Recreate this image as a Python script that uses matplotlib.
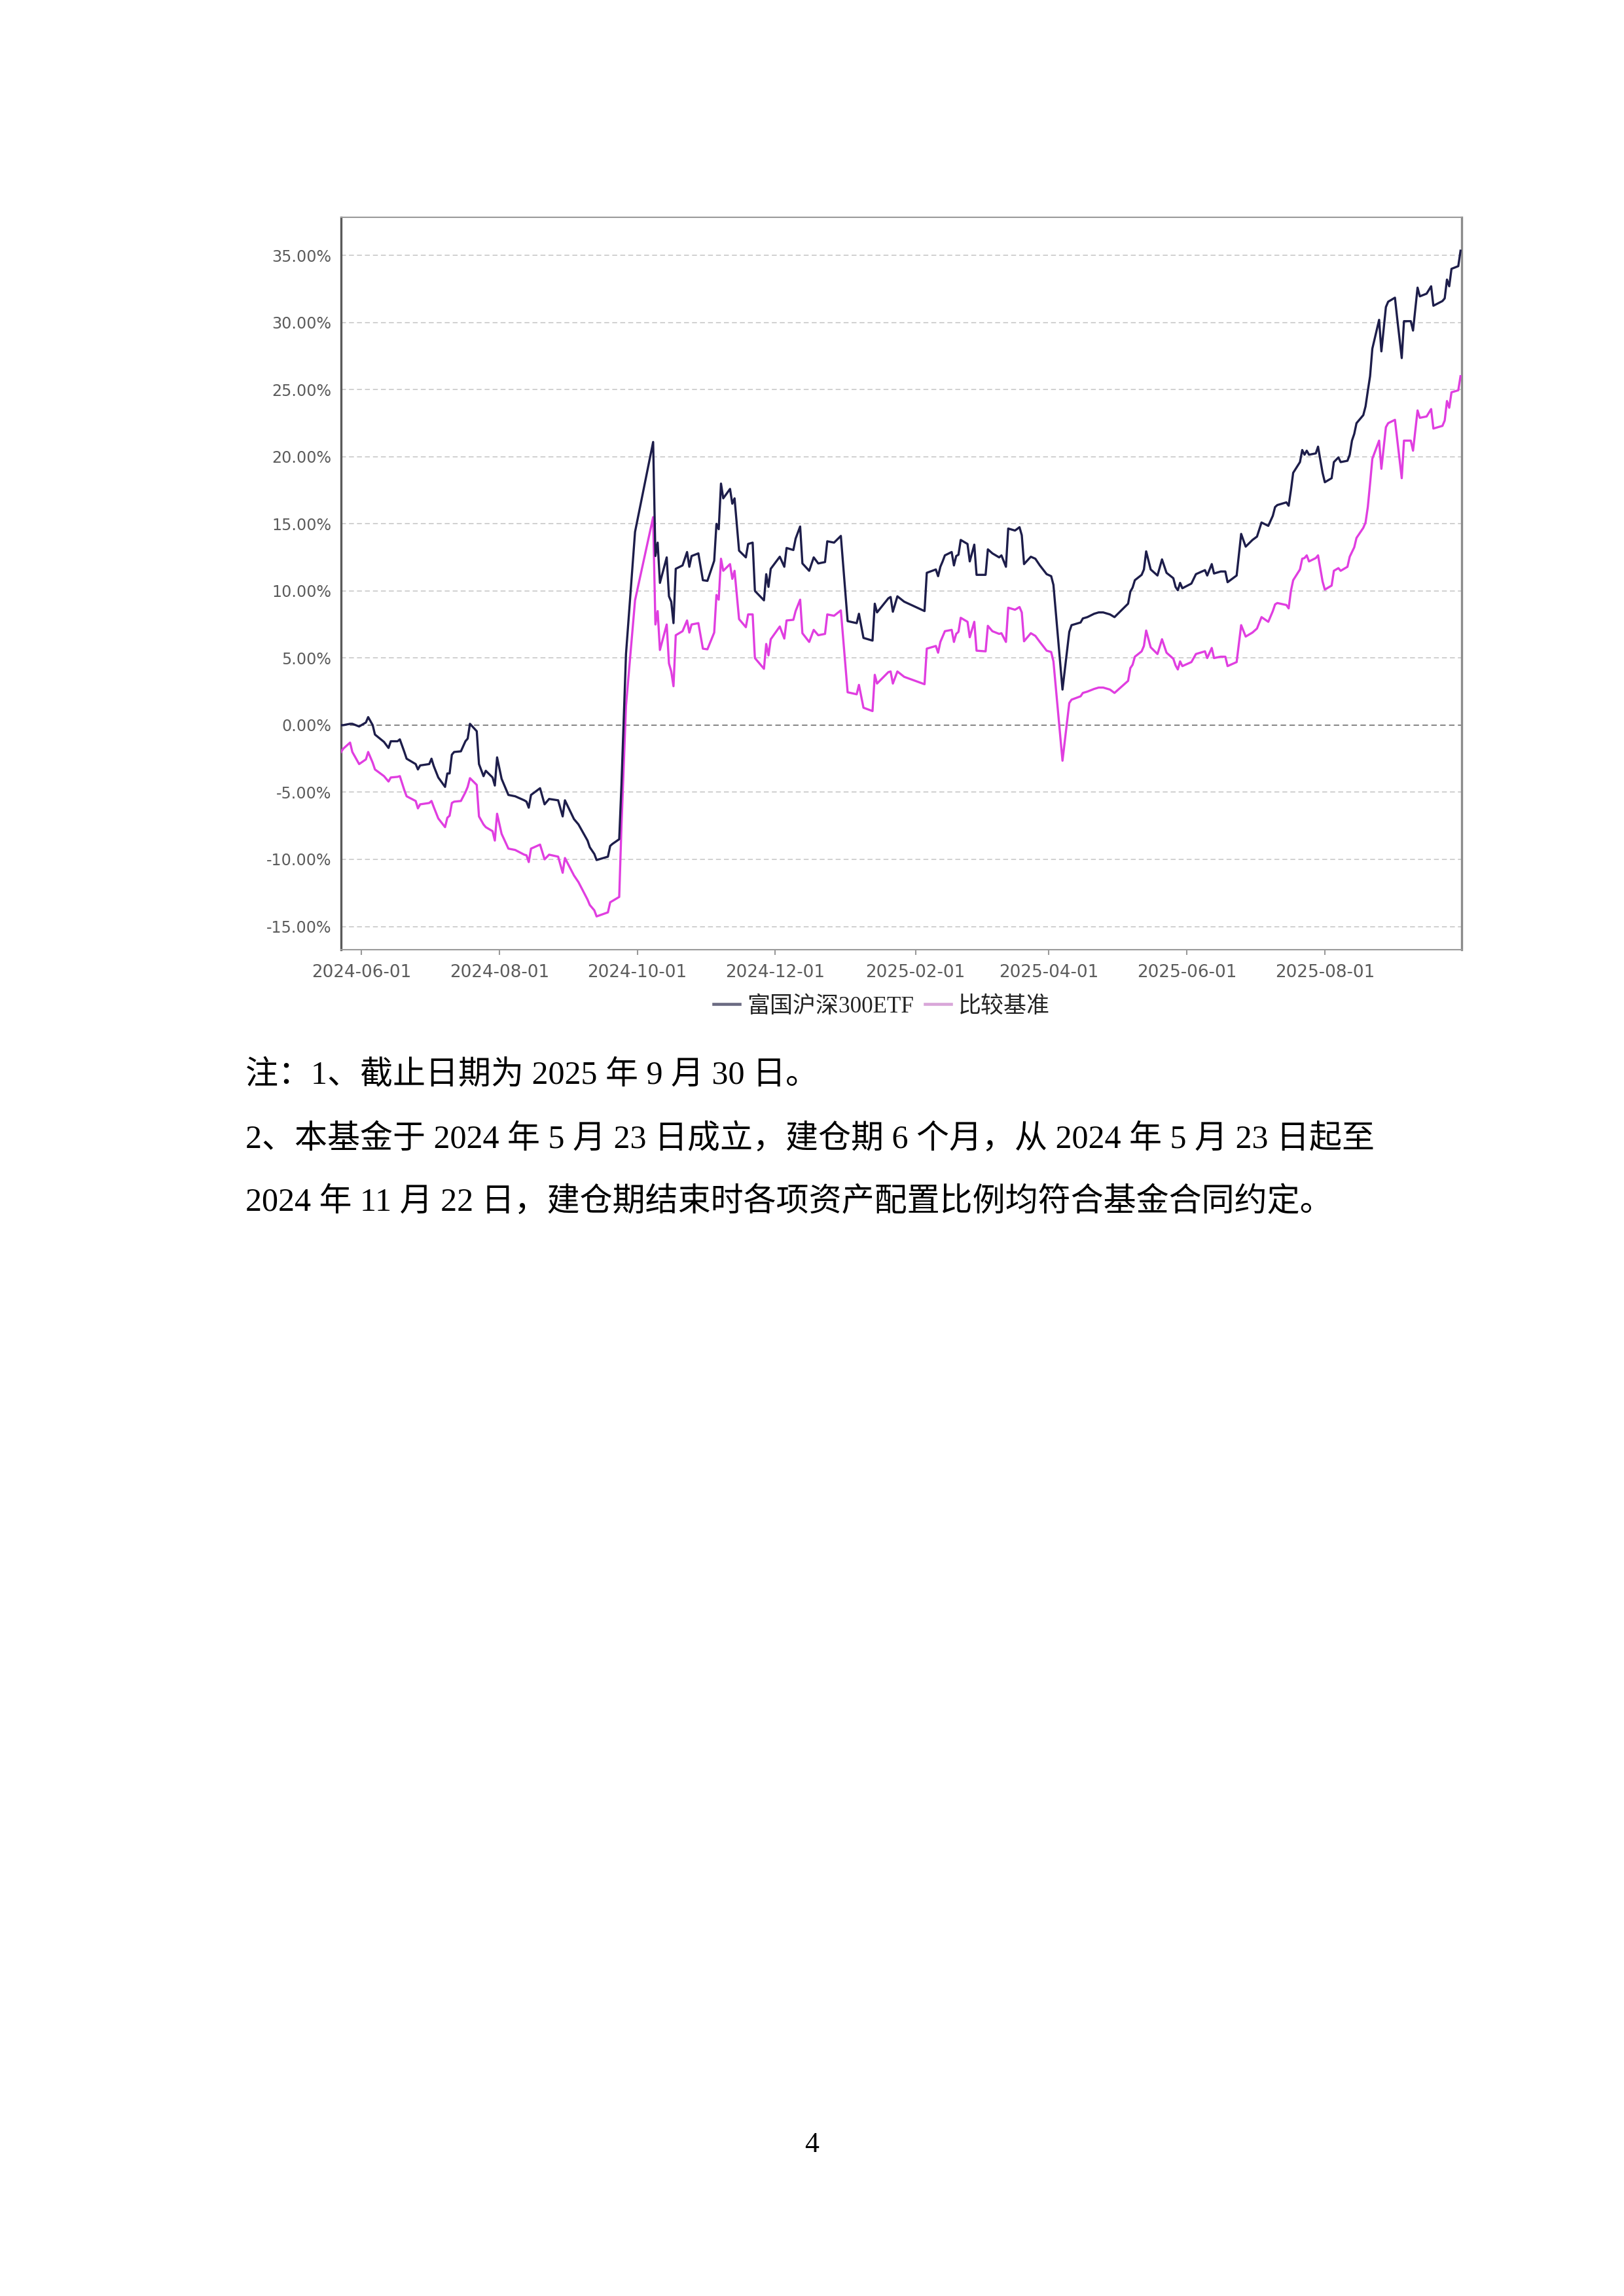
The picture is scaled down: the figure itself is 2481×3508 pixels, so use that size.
import matplotlib
matplotlib.use("Agg")
import matplotlib.pyplot as plt
import matplotlib.dates as mdates
from matplotlib.lines import Line2D
from matplotlib.ticker import FuncFormatter, FixedLocator
import pandas as pd

plt.rcParams['axes.unicode_minus'] = False

# ---------------- data ----------------
dates = [
    "2024-05-23", "2024-05-24", "2024-05-27", "2024-05-28", "2024-05-31", "2024-06-03", "2024-06-04",
    "2024-06-06", "2024-06-07", "2024-06-11", "2024-06-13", "2024-06-14", "2024-06-17", "2024-06-18",
    "2024-06-20", "2024-06-21", "2024-06-25", "2024-06-26", "2024-06-27", "2024-07-01", "2024-07-02",
    "2024-07-03", "2024-07-05", "2024-07-08", "2024-07-09", "2024-07-10", "2024-07-11", "2024-07-12",
    "2024-07-15", "2024-07-17", "2024-07-18", "2024-07-19", "2024-07-22", "2024-07-23", "2024-07-25",
    "2024-07-26", "2024-07-29", "2024-07-30", "2024-07-31", "2024-08-02", "2024-08-05", "2024-08-08",
    "2024-08-12", "2024-08-13", "2024-08-14", "2024-08-15", "2024-08-19", "2024-08-21", "2024-08-23",
    "2024-08-27", "2024-08-29", "2024-08-30", "2024-09-03", "2024-09-05", "2024-09-09", "2024-09-10",
    "2024-09-12", "2024-09-13", "2024-09-18", "2024-09-19", "2024-09-20", "2024-09-23", "2024-09-24",
    "2024-09-26", "2024-09-30", "2024-10-08", "2024-10-09", "2024-10-10", "2024-10-11", "2024-10-14",
    "2024-10-15", "2024-10-16", "2024-10-17", "2024-10-18", "2024-10-21", "2024-10-23", "2024-10-24",
    "2024-10-25", "2024-10-28", "2024-10-30", "2024-11-01", "2024-11-04", "2024-11-05", "2024-11-06",
    "2024-11-07", "2024-11-08", "2024-11-11", "2024-11-12", "2024-11-13", "2024-11-15", "2024-11-18",
    "2024-11-19", "2024-11-21", "2024-11-22", "2024-11-26", "2024-11-27", "2024-11-28", "2024-11-29",
    "2024-12-03", "2024-12-05", "2024-12-06", "2024-12-09", "2024-12-10", "2024-12-12", "2024-12-13",
    "2024-12-16", "2024-12-18", "2024-12-20", "2024-12-23", "2024-12-24", "2024-12-27", "2024-12-30",
    "2025-01-02", "2025-01-06", "2025-01-07", "2025-01-09", "2025-01-13", "2025-01-14", "2025-01-15",
    "2025-01-20", "2025-01-21", "2025-01-22", "2025-01-24", "2025-01-27", "2025-02-05", "2025-02-06",
    "2025-02-10", "2025-02-11", "2025-02-12", "2025-02-13", "2025-02-14", "2025-02-17", "2025-02-18",
    "2025-02-19", "2025-02-20", "2025-02-21", "2025-02-24", "2025-02-25", "2025-02-27", "2025-02-28",
    "2025-03-04", "2025-03-05", "2025-03-07", "2025-03-10", "2025-03-11", "2025-03-13", "2025-03-14",
    "2025-03-17", "2025-03-19", "2025-03-20", "2025-03-21", "2025-03-24", "2025-03-26", "2025-03-28",
    "2025-03-31", "2025-04-02", "2025-04-03", "2025-04-07", "2025-04-10", "2025-04-11", "2025-04-15",
    "2025-04-16", "2025-04-18", "2025-04-21", "2025-04-23", "2025-04-25", "2025-04-28", "2025-04-30",
    "2025-05-06", "2025-05-07", "2025-05-08", "2025-05-09", "2025-05-12", "2025-05-13", "2025-05-14",
    "2025-05-16", "2025-05-19", "2025-05-21", "2025-05-23", "2025-05-26", "2025-05-27", "2025-05-28",
    "2025-05-29", "2025-05-30", "2025-06-03", "2025-06-05", "2025-06-09", "2025-06-10", "2025-06-12",
    "2025-06-13", "2025-06-16", "2025-06-18", "2025-06-19", "2025-06-23", "2025-06-25", "2025-06-27",
    "2025-06-30", "2025-07-02", "2025-07-04", "2025-07-07", "2025-07-09", "2025-07-10", "2025-07-11",
    "2025-07-15", "2025-07-16", "2025-07-17", "2025-07-18", "2025-07-21", "2025-07-22", "2025-07-23",
    "2025-07-24", "2025-07-25", "2025-07-28", "2025-07-29", "2025-07-31", "2025-08-01", "2025-08-04",
    "2025-08-05", "2025-08-07", "2025-08-08", "2025-08-11", "2025-08-12", "2025-08-13", "2025-08-14",
    "2025-08-15", "2025-08-18", "2025-08-19", "2025-08-20", "2025-08-21", "2025-08-22", "2025-08-25",
    "2025-08-26", "2025-08-28", "2025-08-29", "2025-09-01", "2025-09-02", "2025-09-04", "2025-09-05",
    "2025-09-08", "2025-09-09", "2025-09-11", "2025-09-12", "2025-09-15", "2025-09-17", "2025-09-18",
    "2025-09-22", "2025-09-23", "2025-09-24", "2025-09-25", "2025-09-26", "2025-09-29", "2025-09-30",
]

fund = [
    0.00, 0.00, 0.10, 0.10, -0.10, 0.20, 0.60,
    0.00, -0.70, -1.25, -1.70, -1.20, -1.20, -1.06,
    -2.00, -2.50, -2.90, -3.30, -3.00, -2.90, -2.50,
    -3.05, -3.90, -4.60, -3.60, -3.60, -2.20, -2.00,
    -1.95, -1.20, -1.00, 0.10, -0.45, -2.90, -3.80,
    -3.40, -3.90, -4.50, -2.40, -4.00, -5.20, -5.30,
    -5.60, -5.70, -6.15, -5.20, -4.70, -5.90, -5.50,
    -5.60, -6.80, -5.60, -7.00, -7.40, -8.60, -9.10,
    -9.60, -10.05, -9.80, -9.00, -8.85, -8.50, -4.40,
    5.30, 14.40, 21.10, 12.60, 13.60, 10.60, 12.50,
    9.60, 9.20, 7.60, 11.65, 11.90, 12.90, 11.80,
    12.60, 12.80, 10.80, 10.75, 12.25, 15.00, 14.60,
    18.00, 16.90, 17.60, 16.50, 16.90, 13.00, 12.50,
    13.50, 13.60, 10.00, 9.30, 11.25, 10.30, 11.65,
    12.55, 11.80, 13.20, 13.05, 13.90, 14.80, 12.05,
    11.50, 12.50, 12.05, 12.15, 13.70, 13.60, 14.10,
    7.75, 7.60, 8.30, 6.50, 6.30, 9.05, 8.40,
    9.45, 9.55, 8.45, 9.60, 9.20, 8.50, 11.35,
    11.60, 11.10, 11.80, 12.20, 12.65, 12.90, 11.90,
    12.60, 12.70, 13.80, 13.50, 12.20, 13.45, 11.20,
    11.20, 13.10, 12.80, 12.50, 12.65, 11.80, 14.65,
    14.50, 14.75, 14.15, 12.00, 12.55, 12.40, 11.90,
    11.25, 11.10, 10.45, 2.65, 6.95, 7.45, 7.65,
    7.95, 8.05, 8.30, 8.40, 8.40, 8.25, 8.05,
    9.05, 9.95, 10.25, 10.80, 11.20, 11.60, 12.95,
    11.60, 11.15, 12.35, 11.35, 10.95, 10.30, 10.05,
    10.60, 10.20, 10.55, 11.25, 11.55, 11.15, 12.00,
    11.30, 11.45, 11.45, 10.65, 11.15, 14.25, 13.30,
    13.80, 14.05, 15.10, 14.85, 15.60, 16.25, 16.40,
    16.60, 16.35, 17.50, 18.80, 19.60, 20.50, 20.15,
    20.45, 20.15, 20.25, 20.75, 18.80, 18.10, 18.40,
    19.60, 19.95, 19.60, 19.70, 20.15, 21.20, 21.70,
    22.50, 23.10, 23.75, 24.90, 26.00, 28.05, 30.20,
    27.85, 31.15, 31.55, 31.85, 30.30, 27.35, 30.10,
    30.10, 29.40, 32.60, 31.95, 32.15, 32.70, 31.25,
    31.60, 31.80, 33.20, 32.70, 34.00, 34.20, 35.35,
]

bench = [
    -2.00, -1.75, -1.30, -2.00, -2.90, -2.55, -2.00,
    -2.80, -3.30, -3.80, -4.20, -3.90, -3.85, -3.80,
    -4.85, -5.30, -5.65, -6.20, -5.90, -5.80, -5.65,
    -6.10, -6.95, -7.60, -6.90, -6.75, -5.80, -5.70,
    -5.65, -5.00, -4.60, -3.95, -4.45, -6.80, -7.40,
    -7.60, -7.90, -8.60, -6.60, -8.10, -9.20, -9.30,
    -9.65, -9.70, -10.20, -9.20, -8.90, -10.00, -9.65,
    -9.80, -11.00, -9.90, -11.20, -11.70, -13.00, -13.40,
    -13.80, -14.25, -13.95, -13.20, -13.10, -12.80, -7.50,
    1.45, 9.30, 15.50, 7.50, 8.50, 5.60, 7.50,
    4.60, 4.00, 2.90, 6.70, 7.00, 7.80, 6.90,
    7.50, 7.60, 5.70, 5.65, 6.90, 9.70, 9.35,
    12.40, 11.50, 12.00, 10.90, 11.50, 7.90, 7.30,
    8.25, 8.25, 5.00, 4.20, 6.05, 5.20, 6.40,
    7.35, 6.45, 7.80, 7.85, 8.50, 9.35, 6.85,
    6.20, 7.10, 6.70, 6.80, 8.25, 8.15, 8.55,
    2.45, 2.30, 3.00, 1.30, 1.05, 3.75, 3.10,
    3.95, 4.00, 3.10, 4.00, 3.60, 3.05, 5.70,
    5.90, 5.40, 6.20, 6.60, 7.00, 7.10, 6.20,
    6.80, 6.95, 8.00, 7.70, 6.55, 7.70, 5.55,
    5.50, 7.40, 7.00, 6.80, 6.85, 6.20, 8.75,
    8.60, 8.80, 8.40, 6.25, 6.85, 6.65, 6.20,
    5.55, 5.45, 4.75, -2.65, 1.65, 1.90, 2.15,
    2.40, 2.50, 2.70, 2.80, 2.80, 2.65, 2.40,
    3.30, 4.25, 4.50, 5.10, 5.50, 5.90, 7.05,
    5.80, 5.30, 6.40, 5.40, 4.95, 4.45, 4.15,
    4.75, 4.40, 4.70, 5.30, 5.50, 5.00, 5.75,
    5.00, 5.10, 5.10, 4.40, 4.70, 7.45, 6.60,
    6.90, 7.20, 8.05, 7.70, 8.50, 9.00, 9.10,
    8.95, 8.70, 10.00, 10.80, 11.60, 12.40, 12.45,
    12.65, 12.20, 12.45, 12.65, 10.70, 10.10, 10.40,
    11.50, 11.70, 11.50, 11.80, 12.55, 12.90, 13.25,
    13.95, 14.70, 15.10, 16.25, 18.00, 19.85, 21.20,
    19.10, 22.20, 22.50, 22.75, 21.30, 18.40, 21.20,
    21.20, 20.45, 23.45, 22.90, 23.00, 23.55, 22.10,
    22.30, 22.70, 24.15, 23.65, 24.80, 24.95, 26.00,
]

series_names = ["富国沪深300ETF", "比较基准"]
y_ticks = [35, 30, 25, 20, 15, 10, 5, 0, -5, -10, -15]
x_ticks = ["2024-06-01", "2024-08-01", "2024-10-01", "2024-12-01",
           "2025-02-01", "2025-04-01", "2025-06-01", "2025-08-01"]

note_lines = [
    "注：1、截止日期为 2025 年 9 月 30 日。",
    "2、本基金于 2024 年 5 月 23 日成立，建仓期 6 个月，从 2024 年 5 月 23 日起至",
    "2024 年 11 月 22 日，建仓期结束时各项资产配置比例均符合基金合同约定。",
]
page_no = "4"

# ---------------- figure ----------------
W, H = 2481, 3508
fig = plt.figure(figsize=(W / 300, H / 300), dpi=300)
fig.patch.set_facecolor("white")

ax_l, ax_r, ax_t, ax_b = 521, 2233, 332, 1451
ax = fig.add_axes([ax_l / W, 1 - ax_b / H, (ax_r - ax_l) / W, (ax_b - ax_t) / H])

x = pd.to_datetime(dates)
fund_color = "#1d1d4a"
bench_color = "#e03ee0"
ax.plot(x, bench, color=bench_color, lw=0.8, zorder=3)
ax.plot(x, fund, color=fund_color, lw=0.8, zorder=4)

ax.set_xlim(x[0], x[-1] + pd.Timedelta(hours=12))
ax.set_ylim(-16.73, 37.84)

# grid
for v in y_ticks:
    if v == 0:
        ax.axhline(v, color="#8a8a8a", lw=0.5, ls=(0, (4, 2.5)), zorder=2)
    else:
        ax.axhline(v, color="#cfcfcf", lw=0.45, ls=(0, (4, 2.5)), zorder=1)

ax.yaxis.set_major_locator(FixedLocator(y_ticks))
ax.yaxis.set_major_formatter(FuncFormatter(lambda v, p: f"{v:.2f}%"))
ax.set_xticks(pd.to_datetime(x_ticks))
ax.xaxis.set_major_formatter(mdates.DateFormatter("%Y-%m-%d"))

ax.tick_params(axis="y", length=0, pad=3.5, labelsize=5.7, labelcolor="#5c5c5c")
ax.tick_params(axis="x", length=2, width=0.5, color="#999999", pad=3.2,
               labelsize=6.3, labelcolor="#5c5c5c")
for lab in ax.get_xticklabels() + ax.get_yticklabels():
    lab.set_family("DejaVu Sans")

ax.spines["left"].set_color("#5a5a5a")
ax.spines["left"].set_linewidth(0.8)
ax.spines["right"].set_color("#8c8c8c")
ax.spines["right"].set_linewidth(0.8)
ax.spines["top"].set_color("#9a9a9a")
ax.spines["top"].set_linewidth(0.5)
ax.spines["bottom"].set_color("#9a9a9a")
ax.spines["bottom"].set_linewidth(0.5)

# legend
cjk_serif = ["Liberation Serif", "Noto Sans CJK SC"]
handles = [Line2D([0], [0], color="#6b6b82", lw=1.1),
           Line2D([0], [0], color="#d9a6d9", lw=1.1)]
leg = fig.legend(handles, series_names, loc="center", bbox_to_anchor=(1347 / W, 1 - 1538 / H),
                 ncol=2, frameon=False, handlelength=1.15, handletextpad=0.3,
                 columnspacing=0.5, prop={"family": cjk_serif, "size": 8.4, "weight": "medium"})
for t in leg.get_texts():
    t.set_color("#222222")

# notes
note_y = [1643, 1741, 1837]
for line, yy in zip(note_lines, note_y):
    fig.text(375 / W, 1 - yy / H, line, ha="left", va="center", fontsize=12,
             family=cjk_serif, color="#000000")

fig.text(0.5, 1 - 3277 / H, page_no, ha="center", va="center", fontsize=10.5,
         family=["Liberation Serif"], color="#000000")

fig.savefig("out.png", dpi=300, facecolor="white")
